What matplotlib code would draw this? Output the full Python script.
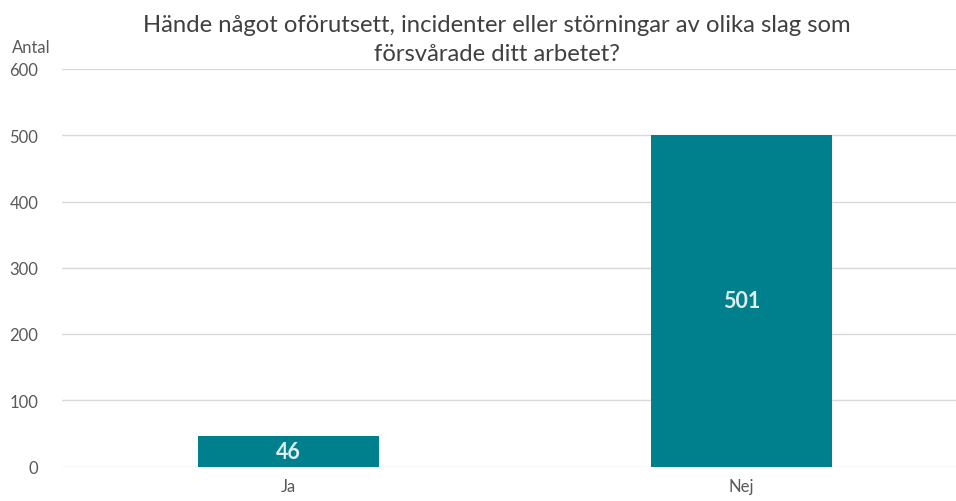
import matplotlib
matplotlib.use("Agg")
import matplotlib.pyplot as plt

categories = ["Ja", "Nej"]
values = [46, 501]
yticks = [0, 100, 200, 300, 400, 500, 600]

plt.rcParams['font.family'] = ['Lato', 'DejaVu Sans']

W, H = 956, 502
fig = plt.figure(figsize=(W/100, H/100), dpi=100)
left, right = 62, 956
bottom, top = 467.5, 70
ax = fig.add_axes([left/W, 1 - bottom/H, (right-left)/W, (bottom-top)/H])

x = list(range(len(categories)))
bars = ax.bar(x, values, width=0.40, color="#00808C", zorder=3)
ax.set_xlim(-0.5, -0.5 + (right-left)/453)
ax.set_ylim(0, 600)
ax.set_yticks(yticks)
ax.set_xticks(x)
ax.set_xticklabels(categories)
ax.grid(axis='y', color="#d9d9d9", linewidth=1, zorder=0)
for s in ax.spines.values():
    s.set_visible(False)
ax.tick_params(axis='both', length=0, labelsize=12, colors="#595959")
ax.tick_params(axis='y', pad=17)
ax.tick_params(axis='x', pad=8)

for b, v in zip(bars, values):
    ax.text(b.get_x() + b.get_width()/2, v/2, str(v), ha='center', va='center',
            color="#DDEFF1", fontsize=15.5, fontweight='bold', zorder=4)

fig.text(497/W, 1 - 40/H, "Hände något oförutsett, incidenter eller störningar av olika slag som\nförsvårade ditt arbetet?",
         ha='center', va='center', fontsize=17.2, color="#404040", linespacing=1.5)
fig.text(31/W, 1 - 48/H, "Antal", ha='center', va='center', fontsize=12, color="#595959")

fig.savefig("out.png", dpi=100)
